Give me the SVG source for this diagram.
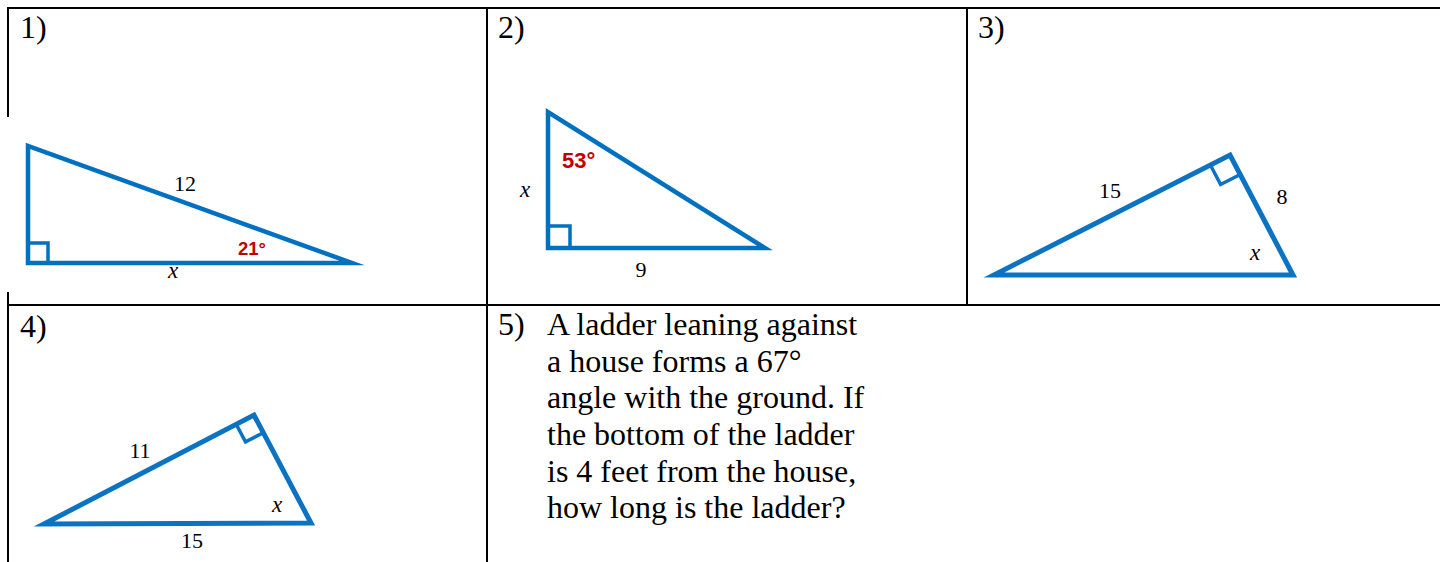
<svg xmlns="http://www.w3.org/2000/svg" width="1440" height="562" viewBox="0 0 1440 562">
<style>
.grid{stroke:#000;stroke-width:2;fill:none}
.tri{fill:none;stroke:#0070C0;stroke-width:4.5;stroke-linejoin:miter;stroke-miterlimit:12}
.tri2{fill:none;stroke:#0B73C2;stroke-width:5;stroke-linejoin:miter;stroke-miterlimit:12}
.sq{fill:none;stroke:#0070C0;stroke-width:3.5}
.sq2{fill:none;stroke:#0B73C2;stroke-width:3.5}
.num{font-family:"Liberation Serif","Times New Roman",serif;font-size:32px;fill:#000}
.lbl{font-family:"Liberation Serif","Times New Roman",serif;font-size:22px;fill:#000}
.var{font-family:"Liberation Serif","Times New Roman",serif;font-size:23px;font-style:italic;fill:#000}
.ang{font-family:"Liberation Sans",Arial,sans-serif;font-weight:bold;fill:#C00000}
</style>
<rect width="1440" height="562" fill="#fff"/>
<g id="table">
<line class="grid" x1="7" y1="8" x2="1440" y2="8"/>
<line class="grid" x1="7" y1="305" x2="1440" y2="305"/>
<line class="grid" x1="8" y1="7" x2="8" y2="117"/>
<line class="grid" x1="8" y1="292" x2="8" y2="562"/>
<line class="grid" x1="487" y1="8" x2="487" y2="562"/>
<line class="grid" x1="967" y1="8" x2="967" y2="305"/>
</g>
<g id="q1">
<text class="num" x="20" y="38">1)</text>
<polygon class="tri" points="28,146 28,263 352,263"/>
<rect class="sq" x="28" y="243" width="20" height="20"/>
<text class="lbl" x="185" y="191" text-anchor="middle">12</text>
<text class="ang" x="238" y="255" font-size="18.5">21°</text>
<text class="var" x="173" y="278" text-anchor="middle">x</text>
</g>
<g id="q2">
<text class="num" x="498" y="38">2)</text>
<polygon class="tri" points="548,112 548,248 765,248"/>
<rect class="sq" x="548" y="226" width="22" height="22"/>
<text class="ang" x="562" y="168" font-size="22">53°</text>
<text class="var" x="525" y="197" text-anchor="middle">x</text>
<text class="lbl" x="641" y="277" text-anchor="middle" font-size="23">9</text>
</g>
<g id="q3">
<text class="num" x="978" y="38">3)</text>
<polygon class="tri2" points="994,275 1230,155 1293,275"/>
<polyline class="sq2" points="1210.4,165 1220.6,184.5 1240.2,174.5"/>
<text class="lbl" x="1110" y="198" text-anchor="middle" font-size="24">15</text>
<text class="lbl" x="1282" y="204" text-anchor="middle" font-size="24">8</text>
<text class="var" x="1255" y="260" text-anchor="middle">x</text>
</g>
<g id="q4">
<text class="num" x="20" y="337">4)</text>
<polygon class="tri2" points="44,524 254,415 311,523"/>
<polyline class="sq2" points="236.2,424.2 245.5,441.9 263.3,432.7"/>
<text class="lbl" x="140" y="458" text-anchor="middle" font-size="23">11</text>
<text class="var" x="277" y="512" text-anchor="middle" font-size="21">x</text>
<text class="lbl" x="192" y="548" text-anchor="middle" font-size="23">15</text>
</g>
<g id="q5">
<text class="num" x="498" y="335">5)</text>
<text class="num" x="547" y="335">A ladder leaning against</text>
<text class="num" x="547" y="372">a house forms a 67°</text>
<text class="num" x="547" y="408">angle with the ground. If</text>
<text class="num" x="547" y="445">the bottom of the ladder</text>
<text class="num" x="547" y="482">is 4 feet from the house,</text>
<text class="num" x="547" y="518">how long is the ladder?</text>
</g>
</svg>
